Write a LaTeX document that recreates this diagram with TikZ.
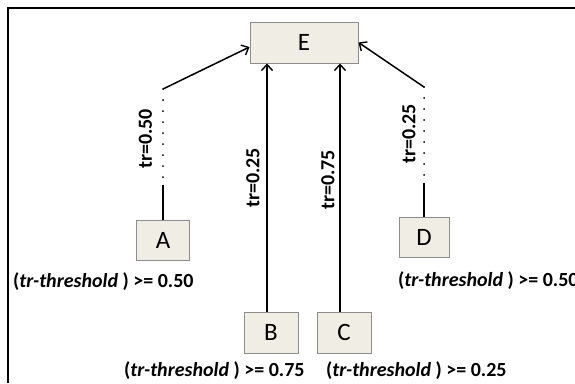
\documentclass[tikz,border=0pt]{standalone}
\usepackage{fontspec}
\setmainfont{Carlito}
\usetikzlibrary{arrows.meta,calc}
\definecolor{boxfill}{RGB}{240,237,228}
\definecolor{boxline}{RGB}{140,140,140}
\begin{document}
\begin{tikzpicture}[x=1pt,y=-1pt,
  box/.style={draw=boxline, fill=boxfill, line width=1pt, minimum width=53pt, minimum height=40pt, inner sep=0pt, font=\fontsize{25}{30}\selectfont},
  arr/.style={line width=1.5pt, -{Straight Barb[length=6pt,width=11pt,line width=1.4pt]}},
  link/.style={line width=1.5pt},
  dots/.style={line width=2pt, line cap=round, dash pattern=on 0pt off 11pt},
  lab/.style={font=\fontsize{20}{24}\selectfont\bfseries, inner sep=0pt},
  frame/.style={line width=2pt}
]
\useasboundingbox (0,0) rectangle (575,383);
\draw[frame] (8,383) -- (8,8) -- (575,8);

\node[box, minimum width=108pt, minimum height=41pt] (E) at (304,42.5) {E};
\node[box] (A) at (163,240) {A};
\node[box, minimum width=54pt, minimum height=41pt] (B) at (271,332.5) {B};
\node[box, minimum width=54pt, minimum height=41pt] (C) at (344,332.5) {C};
\node[box, minimum width=50pt] (D) at (424,237) {D};

% A branch
\coordinate (a1) at (163,89);
\coordinate (a2) at (163,185);
\draw[link] (A.north) -- (a2);
\draw[dots] (a1) -- (a2);
\draw[arr] (a1) -- ($(E.west)+(0,4.5)$);

% D branch
\coordinate (d1) at (424,87);
\coordinate (d2) at (424,183);
\draw[link] (D.north) -- (d2);
\draw[dots] (d1) -- (d2);
\draw[arr] (d1) -- (E.east);

% B and C
\coordinate (bt) at ($(B.north)+(-4,0)$);
\coordinate (ct) at ($(C.north)+(-4,0)$);
\draw[arr] (bt) -- (bt |- E.south);
\draw[arr] (ct) -- (ct |- E.south);

% connector labels
\node[lab, rotate=90] (la) at (145.5,139) {tr=0.50};
\node[lab, rotate=90] (lb) at (253,178) {tr=0.25};
\node[lab, rotate=90] (lc) at (328,180) {tr=0.75};
\node[lab, rotate=90] (ld) at (409,134) {tr=0.25};

% threshold labels
\node[lab, anchor=west] (ta) at (13,282) {(\textit{tr-threshold} ) >= 0.50};
\node[lab, anchor=west] (td) at (398,281) {(\textit{tr-threshold} ) >= 0.50};
\node[lab, anchor=west] (tb) at (124,371) {(\textit{tr-threshold} ) >= 0.75};
\node[lab, anchor=west] (tc) at (326,371) {(\textit{tr-threshold} ) >= 0.25};
\end{tikzpicture}
\end{document}
